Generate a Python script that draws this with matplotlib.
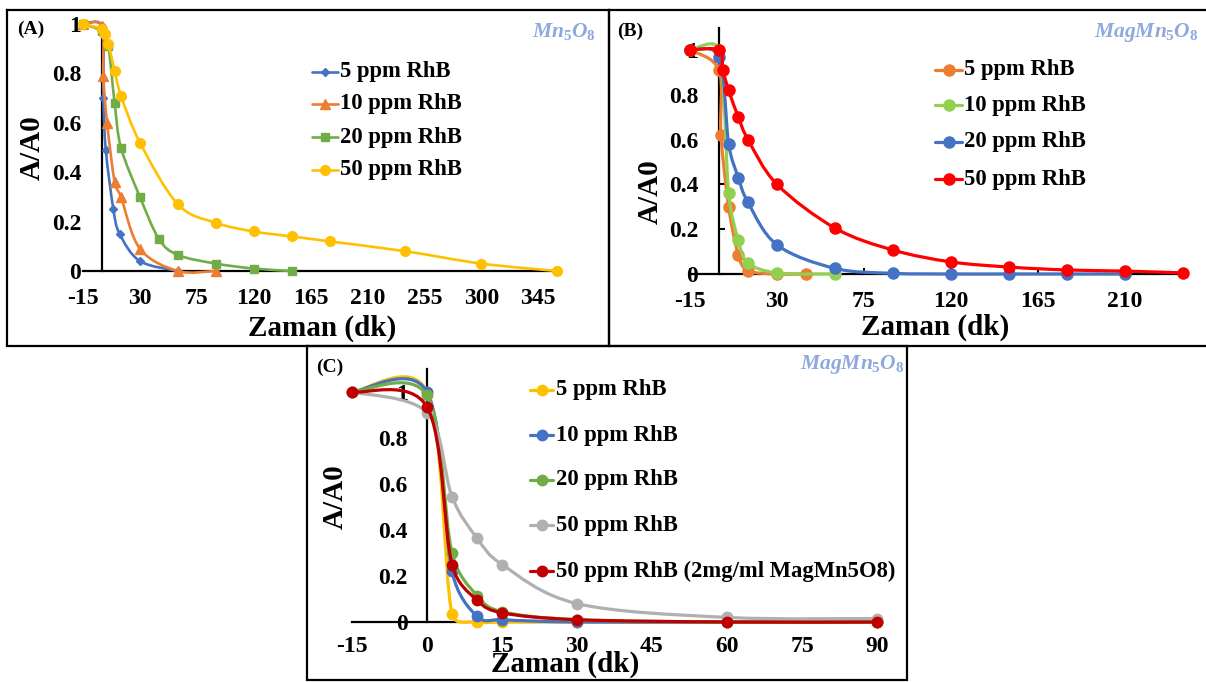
import numpy as np
import matplotlib
matplotlib.use('Agg')
import matplotlib.pyplot as plt
from matplotlib.path import Path
from matplotlib.patches import PathPatch
from matplotlib.ticker import FixedLocator, FuncFormatter

# ---------------- data ----------------
series_labels_a = ['5 ppm RhB', '10 ppm RhB', '20 ppm RhB', '50 ppm RhB']
a_x_5 = [-15, 0, 1, 3, 9, 14, 30, 60]
a_y_5 = [1, 0.99, 0.70, 0.49, 0.25, 0.15, 0.04, 0.0]
a_x_10 = [-15, 0, 1, 4, 10, 15, 30, 60, 90]
a_y_10 = [1, 0.99, 0.79, 0.60, 0.36, 0.30, 0.09, 0.0, 0.0]
a_x_20 = [-15, 0, 5, 10, 15, 30, 45, 60, 90, 120, 150]
a_y_20 = [1, 0.97, 0.91, 0.68, 0.50, 0.30, 0.13, 0.065, 0.03, 0.01, 0.0]
a_x_50 = [-15, 0, 2, 5, 10, 15, 30, 60, 90, 120, 150, 180, 240, 300, 360]
a_y_50 = [1, 0.98, 0.96, 0.92, 0.81, 0.71, 0.52, 0.27, 0.195, 0.16, 0.14, 0.12, 0.08, 0.03, 0.0]
a_xticks = [-15, 30, 75, 120, 165, 210, 255, 300, 345]

series_labels_b = ['5 ppm RhB', '10 ppm RhB', '20 ppm RhB', '50 ppm RhB']
b_x_5 = [-15, 0, 1, 5, 10, 15, 30, 45]
b_y_5 = [1, 0.91, 0.62, 0.30, 0.085, 0.015, 0.0, 0.0]
b_x_10 = [-15, 0, 5, 10, 15, 30, 60]
b_y_10 = [1, 1.0, 0.36, 0.15, 0.05, 0.005, 0.0]
b_x_20 = [-15, 0, 5, 10, 15, 30, 60, 90, 120, 150, 180, 210]
b_y_20 = [1, 0.97, 0.58, 0.43, 0.32, 0.13, 0.025, 0.003, 0.0, 0.0, 0.0, 0.0]
b_x_50 = [-15, 0, 2, 5, 10, 15, 30, 60, 90, 120, 150, 180, 210, 240]
b_y_50 = [1, 1.0, 0.91, 0.82, 0.70, 0.60, 0.40, 0.205, 0.107, 0.054, 0.031, 0.018, 0.013, 0.005]
b_xticks = [-15, 30, 75, 120, 165, 210]

series_labels_c = ['5 ppm RhB', '10 ppm RhB', '20 ppm RhB', '50 ppm RhB',
                   '50 ppm RhB (2mg/ml MagMn5O8)']
c_x = [-15, 0, 5, 10, 15, 30, 60, 90]
c_y_5 = [1, 1.0, 0.035, 0.0, 0.0, 0.0, 0.0, 0.0]
c_y_10 = [1, 1.0, 0.22, 0.025, 0.01, 0.0, 0.0, 0.0]
c_y_20 = [1, 0.985, 0.30, 0.115, 0.045, 0.01, 0.0, 0.0]
c_y_50 = [1, 0.91, 0.545, 0.365, 0.25, 0.08, 0.02, 0.015]
c_y_50b = [1, 0.935, 0.25, 0.095, 0.04, 0.01, 0.0, 0.0]
c_xticks = [-15, 0, 15, 30, 45, 60, 75, 90]

yticks = [0, 0.2, 0.4, 0.6, 0.8, 1.0]

# ---------------- style ----------------
W, H = 1206, 682
plt.rcParams['font.family'] = ['Liberation Serif', 'DejaVu Serif']
plt.rcParams['font.weight'] = 'bold'
plt.rcParams['mathtext.fontset'] = 'custom'
plt.rcParams['mathtext.it'] = 'Liberation Serif:italic:bold'
plt.rcParams['mathtext.rm'] = 'Liberation Serif:bold'
plt.rcParams['mathtext.bf'] = 'Liberation Serif:bold'

TICK_FS = 17
LAB_FS = 21
LEG_FS = 16.3
TITLE_COLOR = '#8EA9DB'

fig = plt.figure(figsize=(W / 100, H / 100), dpi=100)

ov = fig.add_axes([0, 0, 1, 1], zorder=0)
ov.set_xlim(0, W)
ov.set_ylim(H, 0)
ov.axis('off')


def smooth_path(ax, xs, ys):
    """Excel-like smoothed line: Bezier segments, tangents limited in screen space."""
    D = np.column_stack([xs, ys]).astype(float)
    P = ax.transData.transform(D)
    n = len(P)
    verts = [P[0]]
    codes = [Path.MOVETO]
    for i in range(n - 1):
        p0 = P[i - 1] if i > 0 else P[i]
        p1 = P[i]
        p2 = P[i + 1]
        p3 = P[i + 2] if i + 2 < n else P[i + 1]
        d12 = np.hypot(*(p2 - p1))
        t1 = p2 - p0
        t2 = p3 - p1
        d02 = np.hypot(*t1)
        d13 = np.hypot(*t2)
        f1 = min(1 / 6.0, 0.5 * d12 / d02) if d02 > 0 else 0
        f2 = min(1 / 6.0, 0.5 * d12 / d13) if d13 > 0 else 0
        verts += [p1 + t1 * f1, p2 - t2 * f2, p2]
        codes += [Path.CURVE4] * 3
    verts = ax.transData.inverted().transform(np.array(verts))
    return Path(verts, codes)


def px_axes(x0, x1, ytop, ybot):
    return fig.add_axes([x0 / W, 1 - ybot / H, (x1 - x0) / W, (ybot - ytop) / H], zorder=2)


def style_axes(ax, xlim, ylim, xticks, ypad, xpad, ticklen=0):
    ax.set_xlim(*xlim)
    ax.set_ylim(*ylim)
    ax.patch.set_visible(False)
    for s in ['top', 'right']:
        ax.spines[s].set_visible(False)
    ax.spines['left'].set_position(('data', 0))
    ax.spines['bottom'].set_position(('data', 0))
    for s in ['left', 'bottom']:
        ax.spines[s].set_linewidth(1.6)
        ax.spines[s].set_zorder(1)
    ax.xaxis.set_major_locator(FixedLocator(xticks))
    ax.yaxis.set_major_locator(FixedLocator(yticks))
    ax.yaxis.set_major_formatter(FuncFormatter(lambda v, p: '{:g}'.format(round(v, 2))))
    ax.xaxis.set_major_formatter(FuncFormatter(lambda v, p: '{:g}'.format(v)))
    ax.tick_params(axis='y', direction='in', length=ticklen, width=1.5, pad=ypad,
                   labelsize=TICK_FS)
    ax.tick_params(axis='x', direction='in', length=ticklen, width=1.5, pad=xpad,
                   labelsize=TICK_FS)
    for lab in ax.get_xticklabels() + ax.get_yticklabels():
        lab.set_fontweight('bold')


def draw_series(ax, xs, ys, color, marker, ms, lw, z):
    patch = PathPatch(smooth_path(ax, xs, ys), facecolor='none', edgecolor=color, lw=lw,
                      zorder=z, clip_on=False, capstyle='round', joinstyle='round')
    ax.add_patch(patch)
    ax.plot(xs, ys, ls='none', marker=marker, ms=ms, color=color, mec=color,
            zorder=z + 0.05, clip_on=False)


def legend_row(x0, x1, xt, y, color, marker, ms, lw, label, fs=LEG_FS):
    ov.plot([x0, x1], [y, y], color=color, lw=lw, solid_capstyle='round')
    ov.plot([(x0 + x1) / 2], [y], ls='none', marker=marker, ms=ms, color=color, mec=color)
    ov.text(xt, y, label, fontsize=fs, fontweight='bold', va='center', ha='left')


# ---------------- panel borders ----------------
def box(x0, y0, x1, y1):
    ov.plot([x0, x1, x1, x0, x0], [y0, y0, y1, y1, y0], color='black', lw=1.6,
            solid_joinstyle='miter', clip_on=False)


box(7, 10, 609, 346)
box(609, 10, 1208, 346)
box(307, 346, 907, 680)

# ---------------- panel A ----------------
axA = px_axes(102 - 15 * 1.264, 102 + 360 * 1.264, 24, 271)
style_axes(axA, (-15, 360), (0, 1.0), a_xticks, ypad=15, xpad=12)
colors_a = ['#4472C4', '#ED7D31', '#70AD47', '#FFC000']
markers_a = ['D', '^', 's', 'o']
ms_a = [4.2, 6.5, 6.0, 7.0]
data_a = [(a_x_5, a_y_5), (a_x_10, a_y_10), (a_x_20, a_y_20), (a_x_50, a_y_50)]
for i, (xs, ys) in enumerate(data_a):
    draw_series(axA, xs, ys, colors_a[i], markers_a[i], ms_a[i], 1.9, 3 + i)
fig.text(322 / W, 1 - 328 / H, 'Zaman (dk)', fontsize=LAB_FS, fontweight='bold',
         ha='center', va='center')
fig.text(32 / W, 1 - 148 / H, 'A/A0', fontsize=LAB_FS, fontweight='bold',
         ha='center', va='center', rotation=90)
ov.text(17, 29, '(A)', fontsize=14, fontweight='bold', va='center', ha='left')
ov.text(596, 32, r'$\mathit{Mn_{5}O_{8}}$', fontsize=15.5, color=TITLE_COLOR,
        va='center', ha='right')
for i, lab in enumerate(series_labels_a):
    legend_row(312, 338, 340, [72, 104, 137, 170][i], colors_a[i], markers_a[i],
               ms_a[i], 1.9, lab)

# ---------------- panel B ----------------
bs = 1.933
axB = px_axes(719 - 15 * bs, 719 + 240 * bs, 274 - 1.1 * 224, 274)
style_axes(axB, (-15, 240), (0, 1.1), b_xticks, ypad=15, xpad=12, ticklen=4)
colors_b = ['#ED7D31', '#92D050', '#4472C4', '#FF0000']
data_b = [(b_x_5, b_y_5), (b_x_10, b_y_10), (b_x_20, b_y_20), (b_x_50, b_y_50)]
for i, (xs, ys) in enumerate(data_b):
    draw_series(axB, xs, ys, colors_b[i], 'o', 8.0, 2.3, 3 + i)
fig.text(935 / W, 1 - 327 / H, 'Zaman (dk)', fontsize=LAB_FS, fontweight='bold',
         ha='center', va='center')
fig.text(650 / W, 1 - 192 / H, 'A/A0', fontsize=LAB_FS, fontweight='bold',
         ha='center', va='center', rotation=90)
ov.text(617, 31, '(B)', fontsize=14, fontweight='bold', va='center', ha='left')
ov.text(1199, 33, r'$\mathit{MagMn_{5}O_{8}}$', fontsize=15.5, color=TITLE_COLOR,
        va='center', ha='right')
for i, lab in enumerate(series_labels_b):
    legend_row(935, 962, 964, [70, 105, 142, 179][i], colors_b[i], 'o', 8.0, 2.3, lab)

# ---------------- panel C ----------------
cs = 5.0
axC = px_axes(427 - 15 * cs, 427 + 90 * cs, 622 - 1.1 * 230, 622)
style_axes(axC, (-15, 90), (0, 1.1), c_xticks, ypad=14, xpad=10)
colors_c = ['#FFC000', '#4472C4', '#70AD47', '#B0B0B0', '#C00000']
data_c = [c_y_5, c_y_10, c_y_20, c_y_50, c_y_50b]
for i, ys in enumerate(data_c):
    draw_series(axC, c_x, ys, colors_c[i], 'o', 7.5, 2.3, 3 + i)
fig.text(565 / W, 1 - 664 / H, 'Zaman (dk)', fontsize=LAB_FS, fontweight='bold',
         ha='center', va='center')
fig.text(335 / W, 1 - 497 / H, 'A/A0', fontsize=LAB_FS, fontweight='bold',
         ha='center', va='center', rotation=90)
ov.text(316, 367, '(C)', fontsize=14, fontweight='bold', va='center', ha='left')
ov.text(905, 365, r'$\mathit{MagMn_{5}O_{8}}$', fontsize=15.5, color=TITLE_COLOR,
        va='center', ha='right')
for i, lab in enumerate(series_labels_c):
    legend_row(530, 553, 556, [390, 435, 480, 525, 571][i], colors_c[i], 'o', 7.5, 2.3, lab)

fig.savefig('out.png', dpi=100)
